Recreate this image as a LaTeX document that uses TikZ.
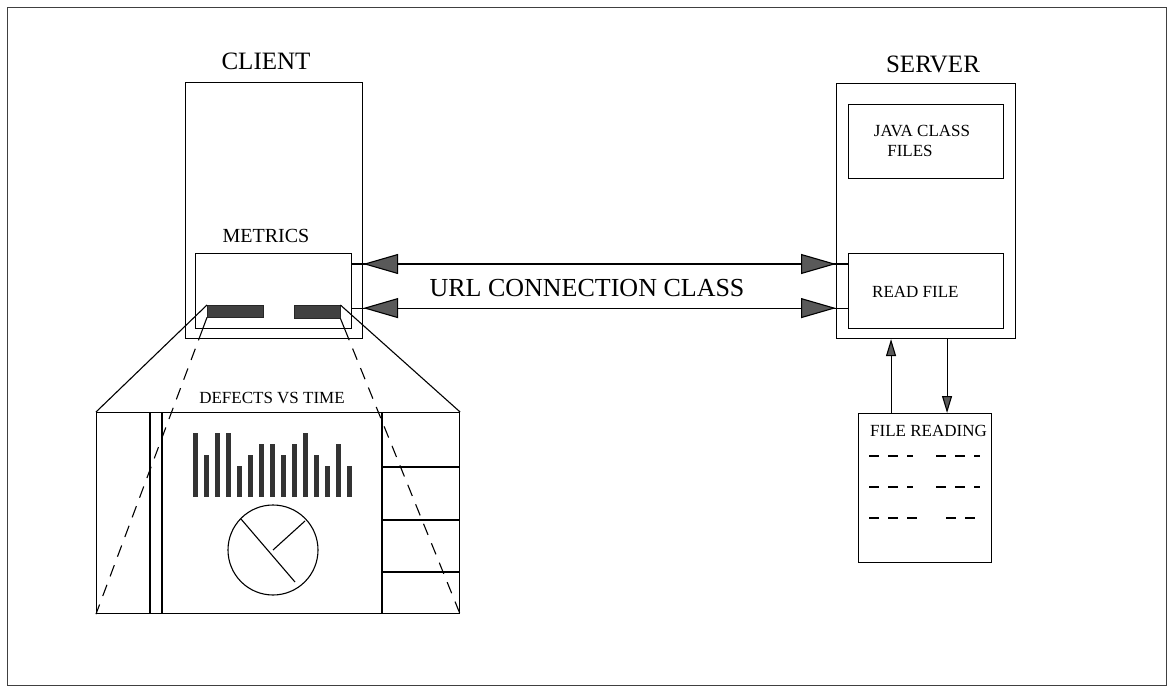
\documentclass[tikz,border=0pt]{standalone}
\usepackage{fontspec}
\setmainfont{Liberation Serif}
\usetikzlibrary{arrows.meta,calc,positioning}
\tikzset{
  unitbox/.style={draw,line width=1.1pt,inner sep=0pt,anchor=north west},
  barbox/.style={fill=black!75,draw=black!85,line width=0.4pt,inner sep=0pt,anchor=north west},
  bigtext/.style={font=\fontsize{25}{30}\selectfont,inner sep=0pt},
  urltext/.style={font=\fontsize{26}{31}\selectfont,inner sep=0pt},
  midtext/.style={font=\fontsize{20}{24}\selectfont,inner sep=0pt},
  smalltext/.style={font=\fontsize{17}{20}\selectfont,inner sep=0pt},
  link/.style={line width=1.1pt},
  urlhead/.style={{Triangle[length=35pt,width=20pt,fill=black!65]}-{Triangle[length=35pt,width=20pt,fill=black!65]},line width=1.1pt},
  filehead/.style={-{Triangle[length=17pt,width=10pt,fill=black!65]},line width=1.1pt},
  zoomdash/.style={line width=1.1pt,dash pattern=on 12pt off 9pt},
  filedash/.style={line width=1.1pt,dash pattern=on 10pt off 9pt},
}
\begin{document}
\begin{tikzpicture}[x=1pt,y=-1pt]
  \useasboundingbox (0,0) rectangle (1168,687);
  \draw[black!75,line width=0.8pt] (7,7) rectangle (1166,685);
  % client
  \node[unitbox,minimum width=177pt,minimum height=256pt] (client) at (185,82) {};
  \node[unitbox,minimum width=156pt,minimum height=75pt] (metrics) at (195,253) {};
  \node[barbox,minimum width=56pt,minimum height=12pt] (barl) at (207,305) {};
  \node[barbox,minimum width=46pt,minimum height=13pt] (barr) at (294,305) {};
  \node[bigtext,anchor=base] (clientlbl) at (266,70) {CLIENT};
  \node[midtext,anchor=base] (metricslbl) at (266,243) {METRICS};
  % server
  \node[unitbox,minimum width=179pt,minimum height=255pt] (server) at (836,83) {};
  \node[unitbox,minimum width=155pt,minimum height=74pt] (java) at (848,104) {};
  \node[unitbox,minimum width=155pt,minimum height=75pt] (readfile) at (848,253) {};
  \node[bigtext,anchor=base] (serverlbl) at (933,73) {SERVER};
  \node[smalltext,anchor=base] (javalbl) at (922,137) {JAVA CLASS};
  \node[smalltext,anchor=base] (fileslbl) at (910,157) {FILES};
  \node[smalltext,anchor=base west] (readlbl) at (872,298) {READ FILE};
  % file reading
  \node[unitbox,minimum width=133pt,minimum height=149pt] (filerd) at (858,413) {};
  \node[smalltext,anchor=base west] (filerdlbl) at (870,436) {FILE READING};
  \draw[filedash] (869,456) -- (913,456) (936,456) -- (980,456);
  \draw[filedash] (869,487) -- (913,487) (936,487) -- (980,487);
  \draw[filedash] (869,518) -- (917,518) (946,518) -- (976,518);
  \coordinate (fup) at ($(filerd.north)+(-34,0)$);
  \coordinate (fdn) at ($(filerd.north)+(22,0)$);
  \draw[filehead] (fup) -- (fup |- server.south);
  \draw[filehead] (fdn |- server.south) -- (fdn);
  % url connection
  \coordinate (u1) at ($(metrics.north east)+(0,11)$);
  \coordinate (u2) at ($(metrics.south east)+(0,-21)$);
  \draw[link] (u1) -- (u1 -| readfile.west);
  \draw[link] (u2) -- (u2 -| readfile.west);
  \draw[urlhead] (u1 -| client.east) -- (u1 -| server.west);
  \draw[urlhead] (u2 -| client.east) -- (u2 -| server.west);
  \node[urltext,anchor=base] (urllbl) at (587,297) {URL CONNECTION CLASS};
  % defects panel
  \node[unitbox,minimum width=363pt,minimum height=201pt] (panel) at (96,412) {};
  \foreach \x in {54,66,286}
    \draw[link] ($(panel.north west)+(\x,0)$) -- ($(panel.south west)+(\x,0)$);
  \foreach \y in {55,108,160}
    \draw[link] ($(panel.north east)+(-77,\y)$) -- ($(panel.north east)+(0,\y)$);
  \node[smalltext,anchor=base] (defectslbl) at (272,403) {DEFECTS VS TIME};
  \foreach \h [count=\i from 0] in {64,42,64,64,31,42,53,53,42,53,64,42,31,53,31}
    \fill[black!80] (193+11*\i,497) rectangle ++(5,-\h);
  \coordinate (pie) at (273,550);
  \draw[link] (pie) circle[radius=45];
  \draw[link] ($(pie)+(-32,-31)$) -- ($(pie)+(22,32)$);
  \draw[link] (pie) -- ($(pie)+(32,-29)$);
  % zoom lines
  \draw[link] (barl.north west) -- (panel.north west);
  \draw[link] (barr.north east) -- (panel.north east);
  \coordinate (zl) at (intersection of barl.south west--panel.south west and metrics.south west--metrics.south east);
  \coordinate (zr) at (intersection of barr.south east--panel.south east and metrics.south west--metrics.south east);
  \draw[link] (barl.south west) -- (zl);
  \draw[link] (barr.south east) -- (zr);
  \draw[zoomdash] (zl) -- (panel.south west);
  \draw[zoomdash] (zr) -- (panel.south east);
\end{tikzpicture}
\end{document}
